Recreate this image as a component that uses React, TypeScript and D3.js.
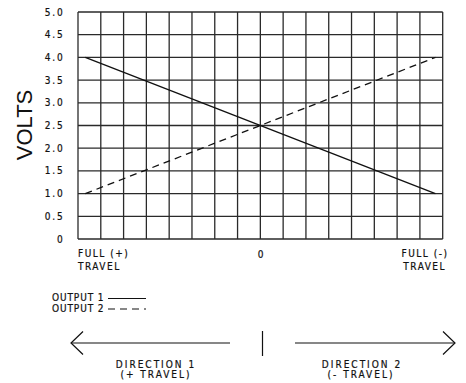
import React from 'react'
import * as d3 from 'd3'

// travel position in percent (-100 = full +, 100 = full -), output in volts
const travel = [-96, 96]
const output1 = [4.0, 1.0]
const output2 = [1.0, 4.0]
const voltTicks = [0, 0.5, 1.0, 1.5, 2.0, 2.5, 3.0, 3.5, 4.0, 4.5, 5.0]
const voltLabels = ['0', '0.5', '1.0', '1.5', '2.0', '2.5', '3.0', '3.5', '4.0', '4.5', '5.0']
const travelGrid = d3.range(-100, 100.1, 12.5)
const seriesNames = ['OUTPUT 1', 'OUTPUT 2']

const W = 466
const H = 383
const cad = '"DejaVu Sans Condensed", "DejaVu Sans", sans-serif'

export default function App() {
  const x = d3.scaleLinear().domain([-100, 100]).range([78, 442.7])
  const y = d3.scaleLinear().domain([0, 5]).range([239, 12])

  const line = d3
    .line<number>()
    .x((d, i) => x(travel[i]))
    .y((d) => y(d))

  const [x0, x1] = x.range()
  const [y0, y1] = y.range()

  // stroke-font look for the small labels
  const txt = { fontFamily: cad, fontSize: 10, fill: '#111', stroke: '#111', strokeWidth: 0.2 }

  return (
    <svg width={W} height={H} style={{ position: 'absolute', left: 0, top: 0 }}>
      <rect width={W} height={H} fill="#fff" />
      {/* grid */}
      <g stroke="#2a2a2a" strokeWidth={1.3}>
        {voltTicks.map((v) => (
          <line key={'h' + v} x1={x0} x2={x1} y1={y(v)} y2={y(v)} />
        ))}
        {travelGrid.map((t) => (
          <line key={'v' + t} x1={x(t)} x2={x(t)} y1={y1} y2={y0} />
        ))}
      </g>

      {/* y tick labels */}
      <g {...txt} textAnchor="end" letterSpacing={1.8}>
        {voltTicks.map((v, i) => (
          <text key={v} x={64.5} y={y(v) + 3.5}>
            {voltLabels[i]}
          </text>
        ))}
      </g>

      <text
        transform={`translate(32,125) rotate(-90)`}
        textAnchor="middle"
        fontFamily='"Liberation Sans", Arial, sans-serif'
        fontSize={22}
        fill="#111"
      >
        VOLTS
      </text>

      {/* series */}
      <path d={line(output1) || ''} fill="none" stroke="#111" strokeWidth={1.3} />
      <path d={line(output2) || ''} fill="none" stroke="#111" strokeWidth={1.3} strokeDasharray="7,5" />

      {/* x labels */}
      <g {...txt} letterSpacing={1.5}>
        <text x={x0} y={257}>FULL (+)</text>
        <text x={x0} y={270}>TRAVEL</text>
        <text x={x(0) + 1} y={258} textAnchor="middle">0</text>
        <text x={448.5} y={257} textAnchor="end">FULL (-)</text>
        <text x={446} y={270} textAnchor="end">TRAVEL</text>
      </g>

      {/* legend */}
      <g {...txt} letterSpacing={0.9}>
        {seriesNames.map((n, i) => (
          <text key={n} x={52} y={301 + i * 10.5}>{n}</text>
        ))}
      </g>
      <g stroke="#111" strokeWidth={1.2}>
        {seriesNames.map((n, i) => (
          <line
            key={n}
            x1={108}
            x2={146}
            y1={298.5 + i * 10.5}
            y2={298.5 + i * 10.5}
            strokeDasharray={i === 1 ? '7,5' : undefined}
          />
        ))}
      </g>

      {/* direction arrows */}
      <g stroke="#111" strokeWidth={1.2} fill="none">
        <line x1={71} x2={230} y1={343} y2={343} />
        <polyline points="83,331.5 71,343 83,354.5" />
        <line x1={262.5} x2={262.5} y1={331} y2={356} />
        <line x1={295} x2={455} y1={343} y2={343} />
        <polyline points="443,331.5 455,343 443,354.5" />
      </g>
      <g {...txt} letterSpacing={2} textAnchor="middle">
        <text x={156} y={368}>DIRECTION 1</text>
        <text x={156} y={378}>(+ TRAVEL)</text>
        <text x={362} y={368}>DIRECTION 2</text>
        <text x={361} y={378}>(- TRAVEL)</text>
      </g>
    </svg>
  )
}
